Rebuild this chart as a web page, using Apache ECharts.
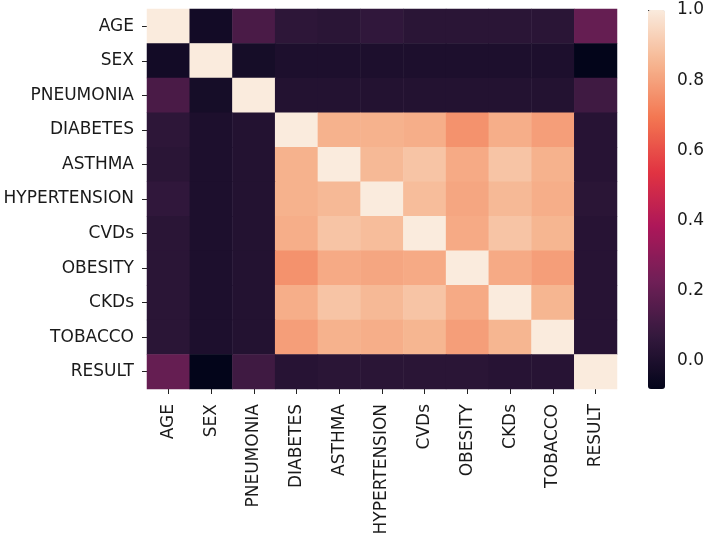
<!DOCTYPE html>
<html>
<head>
<meta charset="utf-8">
<script src="https://cdn.jsdelivr.net/npm/echarts@6/dist/echarts.min.js"></script>
<style>html,body{margin:0;padding:0;background:#fff;}#c{width:707px;height:541px;}</style>
</head>
<body>
<div id="c"></div>
<script>
var categories = ['AGE','SEX','PNEUMONIA','DIABETES','ASTHMA','HYPERTENSION','CVDs','OBESITY','CKDs','TOBACCO','RESULT'];
var rowAGE          = [1.00,-0.03, 0.13, 0.05, 0.04, 0.06, 0.04, 0.04, 0.04, 0.04, 0.20];
var rowSEX          = [-0.03,1.00,-0.02, 0.00, 0.00, 0.00, 0.00, 0.00, 0.00, 0.00,-0.08];
var rowPNEUMONIA    = [0.13,-0.02, 1.00, 0.02, 0.02, 0.02, 0.02, 0.02, 0.02, 0.02, 0.10];
var rowDIABETES     = [0.05, 0.00, 0.02, 1.00, 0.84, 0.84, 0.83, 0.76, 0.83, 0.79, 0.03];
var rowASTHMA       = [0.04, 0.00, 0.02, 0.84, 1.00, 0.86, 0.89, 0.82, 0.89, 0.84, 0.03];
var rowHYPERTENSION = [0.06, 0.00, 0.02, 0.84, 0.86, 1.00, 0.87, 0.81, 0.86, 0.83, 0.04];
var rowCVDs         = [0.04, 0.00, 0.02, 0.83, 0.89, 0.87, 1.00, 0.82, 0.89, 0.85, 0.03];
var rowOBESITY      = [0.04, 0.00, 0.02, 0.76, 0.82, 0.81, 0.82, 1.00, 0.82, 0.79, 0.03];
var rowCKDs         = [0.04, 0.00, 0.02, 0.83, 0.89, 0.86, 0.89, 0.82, 1.00, 0.85, 0.03];
var rowTOBACCO      = [0.04, 0.00, 0.02, 0.79, 0.84, 0.83, 0.85, 0.79, 0.85, 1.00, 0.03];
var rowRESULT       = [0.20,-0.08, 0.10, 0.03, 0.04, 0.04, 0.04, 0.04, 0.03, 0.03, 1.00];
var colorbarTicks = [0.0, 0.2, 0.4, 0.6, 0.8, 1.0];

var rows = [rowAGE,rowSEX,rowPNEUMONIA,rowDIABETES,rowASTHMA,rowHYPERTENSION,rowCVDs,rowOBESITY,rowCKDs,rowTOBACCO,rowRESULT];
var data = [];
rows.forEach(function(r, yi){ r.forEach(function(v, xi){ data.push([xi, yi, v]); }); });

var vmin = -0.08, vmax = 1.0;
var rocket = ['#03051a','#35193e','#701f57','#ad1759','#e13342','#f37651','#f6b48f','#faebdd'];
var font = 'DejaVu Sans';
var txt = '#1a1a1a';

var chart = echarts.init(document.getElementById('c'), null, {renderer:'canvas'});
chart.setOption({
  animation: false,
  backgroundColor: '#ffffff',
  grid: [
    {left: 147, top: 9, width: 470, height: 380},
    {left: 648, top: 10, width: 17, height: 379}
  ],
  xAxis: [
    {type:'category', gridIndex:0, data: categories, position:'bottom',
     axisLine:{show:false}, splitLine:{show:false}, splitArea:{show:false},
     axisTick:{show:true, alignWithLabel:true, length:5, lineStyle:{color:'#222', width:1}},
     axisLabel:{rotate:90, color:txt, fontFamily:font, fontSize:17, margin:15}},
    {type:'value', gridIndex:1, show:false, min:0, max:1}
  ],
  yAxis: [
    {type:'category', gridIndex:0, data: categories, inverse:true,
     axisLine:{show:false}, splitLine:{show:false}, splitArea:{show:false},
     axisTick:{show:true, alignWithLabel:true, length:5, lineStyle:{color:'#222', width:1}},
     axisLabel:{color:txt, fontFamily:font, fontSize:17, margin:13}},
    {type:'value', gridIndex:1, position:'right', min:vmin, max:vmax,
     axisLine:{show:false}, splitLine:{show:false},
     axisTick:{show:true, customValues: colorbarTicks, length:5, lineStyle:{color:'#222'}},
     axisLabel:{show:true, customValues: colorbarTicks, color:txt, fontFamily:font, fontSize:17, margin:13,
       formatter:function(v){ return v.toFixed(1); }}}
  ],
  visualMap: {
    type:'continuous', seriesIndex:0, min:vmin, max:vmax, calculable:false,
    orient:'vertical', left:648, top:10, itemWidth:17, itemHeight:379, padding:0,
    text:null, showLabel:false, hoverLink:false,
    inRange:{color: rocket}
  },
  series: [{
    type:'heatmap', xAxisIndex:0, yAxisIndex:0, data:data,
    itemStyle:{borderWidth:0}, emphasis:{disabled:true}, progressive:0
  }]
});
</script>
</body>
</html>
